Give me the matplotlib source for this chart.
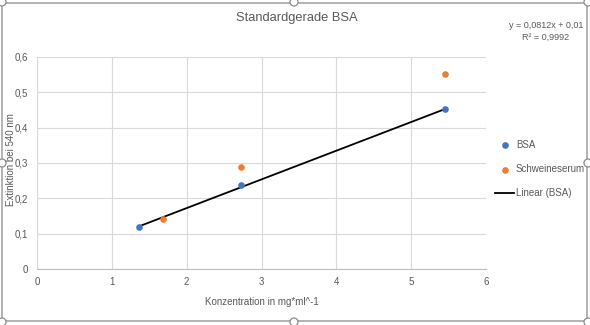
import numpy as np
import matplotlib
matplotlib.use('Agg')
import matplotlib.pyplot as plt
from matplotlib.patches import Rectangle, Ellipse
from matplotlib.ticker import FuncFormatter

# ── Data ──────────────────────────────────────────────────────────────────────
bsa_x   = [1.3625, 2.725, 5.45]
bsa_y   = [0.119, 0.238, 0.453]
serum_x = [1.69, 2.725, 5.45]
serum_y = [0.142, 0.288, 0.552]

slope, intercept = 0.0812, 0.01
r_squared = 0.9992

x_ticks = [0, 1, 2, 3, 4, 5, 6]
y_ticks = [0, 0.1, 0.2, 0.3, 0.4, 0.5, 0.6]

TEXT = '#595959'
GRID = '#d9d9d9'
plt.rcParams['font.family'] = ['Liberation Sans', 'DejaVu Sans']

fig = plt.figure(figsize=(5.9, 3.25), dpi=100)
ax = fig.add_axes([37 / 590, 1 - 269 / 325, 449 / 590, 212 / 325])

# ── Series + trendline ────────────────────────────────────────────────────────
ax.scatter(bsa_x, bsa_y, s=14, color='#4472C4', zorder=3, label='BSA')
ax.scatter(serum_x, serum_y, s=14, color='#ED7D31', zorder=3, label='Schweineserum')
fit_x = np.array([min(bsa_x), max(bsa_x)])
ax.plot(fit_x, slope * fit_x + intercept, color='black', lw=1.3, zorder=2,
        label='Linear (BSA)')

# ── Axes styling ──────────────────────────────────────────────────────────────
ax.set_xlim(0, 6)
ax.set_ylim(0, 0.6)
ax.set_xticks(x_ticks)
ax.set_yticks(y_ticks)
ax.yaxis.set_major_formatter(FuncFormatter(lambda v, p: ('%g' % round(v, 1)).replace('.', ',')))
ax.grid(color=GRID, lw=0.8)
ax.set_axisbelow(True)
for side in ['top', 'right', 'left']:
    ax.spines[side].set_visible(False)
ax.spines['bottom'].set_color('#bfbfbf')
ax.tick_params(length=0, labelsize=7, colors=TEXT, pad=6)
ax.tick_params(axis='y', pad=6.5)
ax.set_xlabel('Konzentration in mg*ml^-1', fontsize=7, color=TEXT, labelpad=7)
fig.text(11 / 590, 1 - 160 / 325, 'Extinktion bei 540 nm', rotation=90,
         ha='center', va='center', fontsize=7, color=TEXT)

fig.text(297 / 590, 1 - 18 / 325, 'Standardgerade BSA', ha='center', va='center',
         fontsize=9.3, color=TEXT)
fig.text(546 / 590, 1 - 25 / 325, 'y = 0,0812x + 0,01', ha='center', va='center',
         fontsize=6.5, color=TEXT)
fig.text(546 / 590, 1 - 37 / 325, 'R² = 0,9992', ha='center', va='center',
         fontsize=6.5, color=TEXT)

ax.legend(loc='upper left', bbox_to_anchor=(495 / 590, 1 - 140 / 325),
          bbox_transform=fig.transFigure, frameon=False, fontsize=7,
          labelcolor=TEXT, handlelength=2.0, handletextpad=0.15,
          labelspacing=1.45, borderaxespad=0, borderpad=0)

# ── Chart frame with selection handles ────────────────────────────────────────
fig.patches.append(Rectangle((2 / 590, 4 / 325), 585 / 590, 318 / 325,
                             transform=fig.transFigure, fill=False,
                             edgecolor='#a6a6a6', lw=1.2))
for hx, hy in [(2, 2), (294, 2), (588, 2), (588, 163), (588, 322),
               (294, 322), (2, 322), (2, 163)]:
    fig.patches.append(Ellipse((hx / 590, 1 - hy / 325), 8 / 590, 8 / 325,
                               transform=fig.transFigure, facecolor='white',
                               edgecolor='#8c8c8c', lw=0.9))

fig.savefig('out.png', dpi=100)
